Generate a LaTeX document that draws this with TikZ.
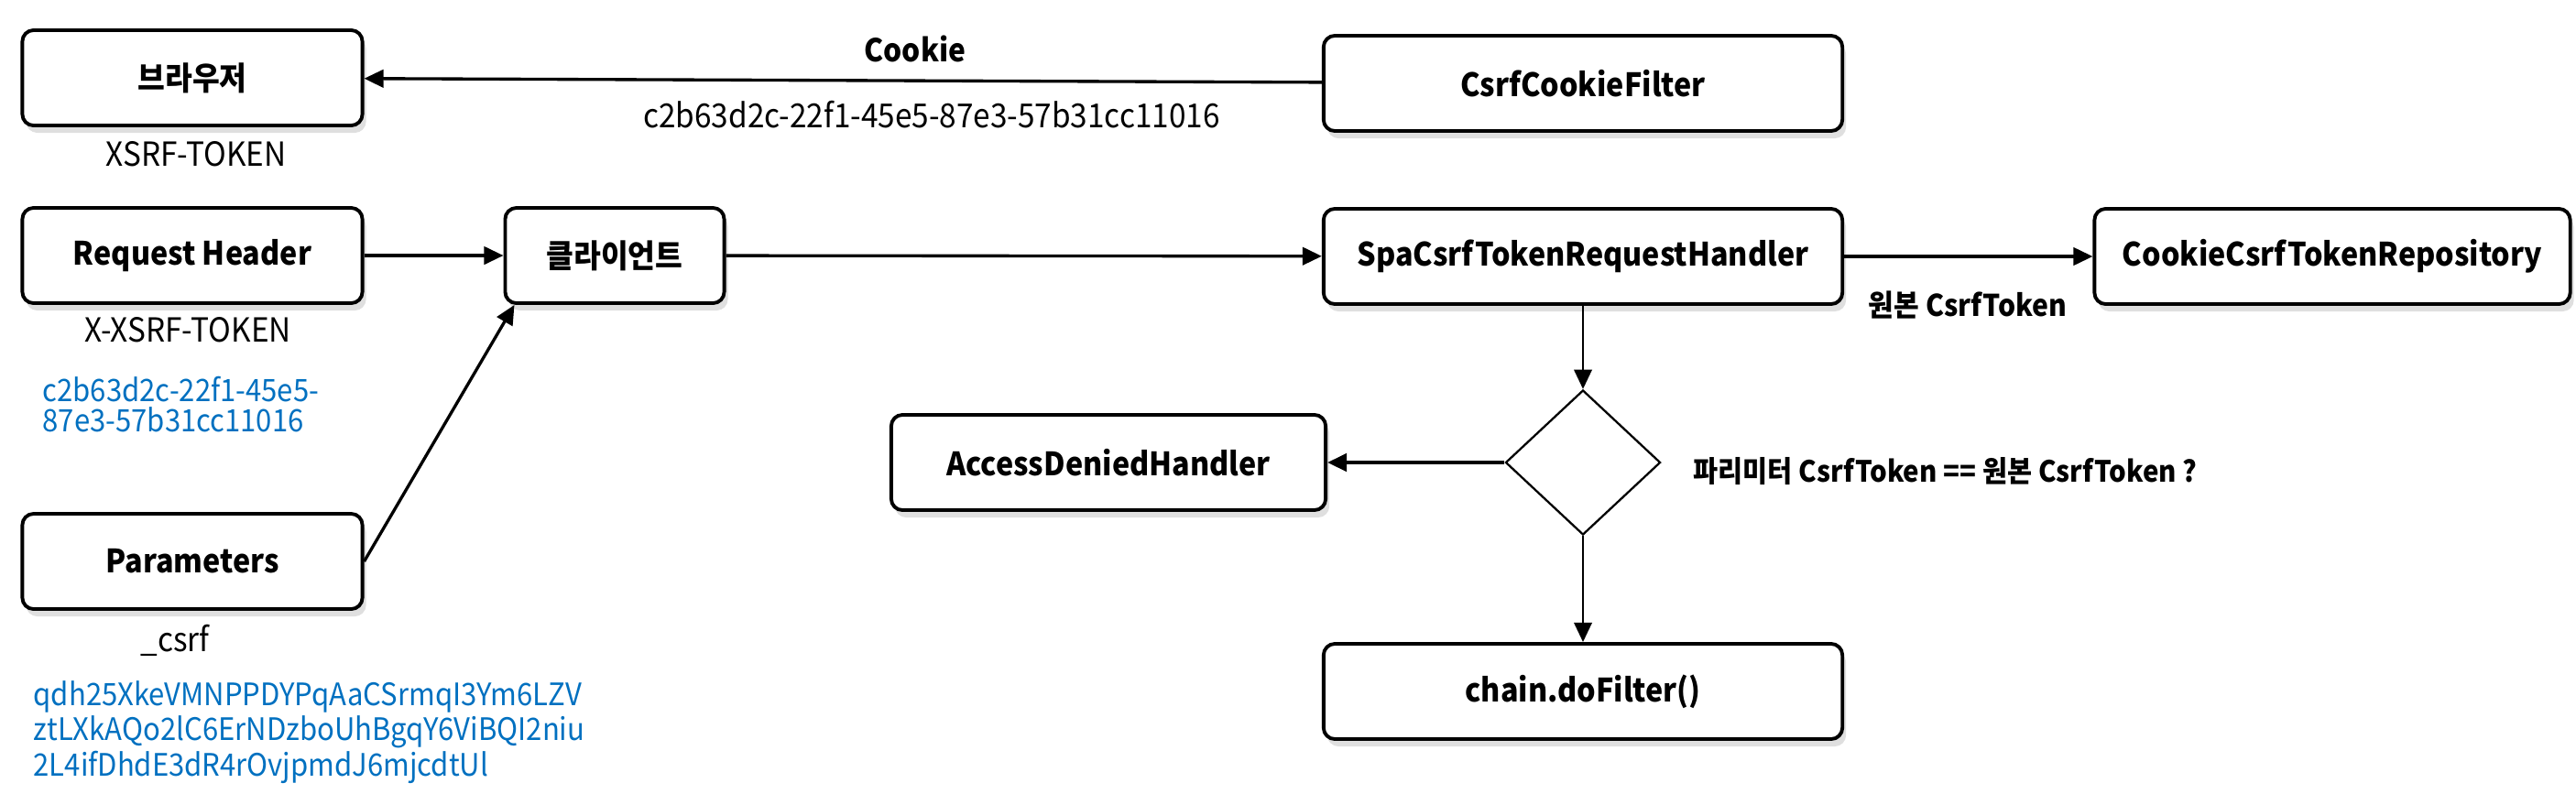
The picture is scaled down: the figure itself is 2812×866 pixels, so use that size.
\documentclass[tikz,border=0pt]{standalone}
\usepackage{fontspec}
\setmainfont{Noto Sans CJK KR}[FakeStretch=0.92]
\usepackage{xcolor}
\usepackage{tikz}
\usetikzlibrary{shapes}
\usetikzlibrary{shadows}
\usetikzlibrary{arrows.meta}
\definecolor{tokenblue}{RGB}{0,112,192}
\tikzset{
	main node/.style={rectangle,draw,fill=white,rounded corners=3.5pt,line width=1.1pt,
		minimum height=1.04cm,font=\fontsize{10}{12}\selectfont\bfseries,
		drop shadow={shadow xshift=0.4mm,shadow yshift=-0.8mm,opacity=0.25}},
	check node/.style={diamond,draw,line width=0.65pt,inner sep=0pt,
		minimum width=1.69cm,minimum height=1.58cm},
	small text/.style={font=\fontsize{10.3}{12}\selectfont},
	bold text/.style={font=\fontsize{9.3}{12}\selectfont\bfseries},
	token text/.style={font=\fontsize{9.6}{9.3}\selectfont,text=tokenblue,
		align=left,anchor=north west,inner sep=0pt}
}

\begin{document}
\begin{tikzpicture}[x=0.01cm,y=-0.01cm,->,>={Triangle[length=6pt,width=5.5pt]},line width=0.95pt]
	\useasboundingbox (0,0) rectangle (2812,866);
	% boxes
	\node [main node,minimum width=3.71cm] (browser) at (210,85) {브라우저};
	\node [main node,minimum width=5.66cm] (cookiefilter) at (1728,91) {CsrfCookieFilter};
	\node [main node,minimum width=3.71cm] (header) at (210,279) {Request Header};
	\node [main node,minimum width=2.39cm] (client) at (671,279) {클라이언트};
	\node [main node,minimum width=5.66cm] (handler) at (1728,280) {SpaCsrfTokenRequestHandler};
	\node [main node,minimum width=5.19cm] (repository) at (2546,280) {CookieCsrfTokenRepository};
	\node [main node,minimum width=3.71cm] (params) at (210,613) {Parameters};
	\node [check node] (check) at (1728,505) {};
	\node [main node,minimum width=4.74cm] (denied) at (1210,505) {AccessDeniedHandler};
	\node [main node,minimum width=5.66cm] (chain) at (1728,755) {chain.doFilter()};
	% texts
	\node [small text] (xsrf) at (214,168) {XSRF-TOKEN};
	\node [bold text,font=\fontsize{9.8}{12}\selectfont\bfseries] (cookie) at (999,53) {Cookie};
	\node [small text] (cookieval) at (1017,125) {c2b63d2c-22f1-45e5-87e3-57b31cc11016};
	\node [small text] (xxsrf) at (205,360) {X-XSRF-TOKEN};
	\node [token text] (headerval) at (45,410) {c2b63d2c-22f1-45e5-\\87e3-57b31cc11016};
	\node [small text] (csrf) at (191,699) {\_csrf};
	\node [token text] (paramval) at (35,742) {qdh25XkeVMNPPDYPqAaCSrmqI3Ym6LZV\\ztLXkAQo2lC6ErNDzboUhBgqY6ViBQI2niu\\2L4ifDhdE3dR4rOvjpmdJ6mjcdtUl};
	\node [bold text] (original) at (2148,333) {원본 CsrfToken};
	\node [bold text,anchor=west,inner sep=0pt,font=\fontsize{9.1}{12}\selectfont\bfseries] (question) at (1847,515) {파리미터 CsrfToken == 원본 CsrfToken ?};
	% arrows
	\draw (cookiefilter) -- (browser);
	\draw (header) -- (client);
	\draw (params.east) -- ([xshift=0.12cm]client.south west);
	\draw (client) -- (handler);
	\draw (handler) -- (repository);
	\draw [line width=0.7pt] (handler) -- (check);
	\draw [line width=1.15pt] (check) -- (denied);
	\draw [line width=0.7pt] (check) -- (chain);
\end{tikzpicture}
\end{document}
